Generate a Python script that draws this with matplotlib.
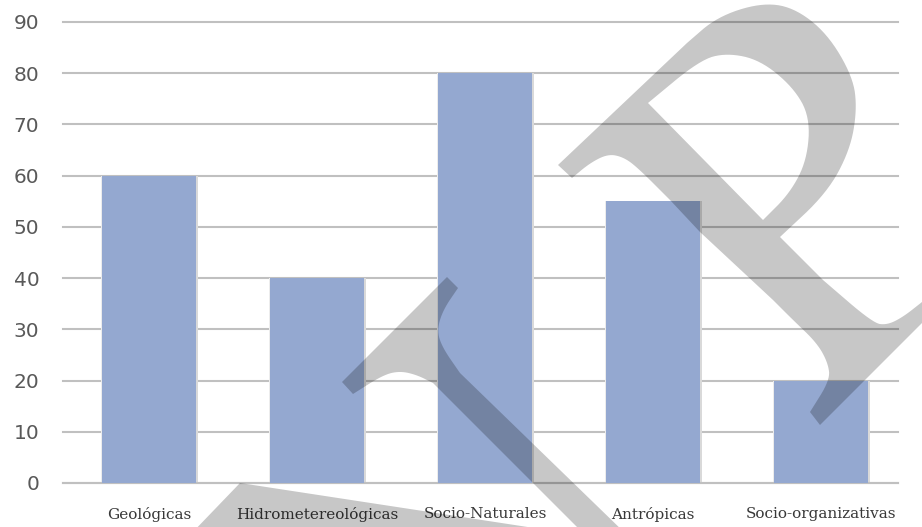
import matplotlib
matplotlib.use("Agg")
import matplotlib.pyplot as plt
import numpy as np
from matplotlib.path import Path
from matplotlib.patches import PathPatch

categories = ["Geológicas", "Hidrometereológicas", "Socio-Naturales",
              "Antrópicas", "Socio-organizativas"]
values = [60, 40, 80, 55, 20]
y_ticks = [0, 10, 20, 30, 40, 50, 60, 70, 80, 90]

BAR_COLOR = "#94a8d0"
GRID_COLOR = "#c0c0c0"

W, H = 922, 527

# watermark outline, in pixels of the original image (y pointing down)
wm_wedge = [(190, 535), (240, 483), (580, 535)]
wm_serif = [(342, 382), (447, 277), (458, 288), (443, 310), (437, 330),
            (442, 347), (460, 373), (627, 535), (585, 535), (433, 383),
            (417, 375), (400, 371), (383, 375), (353, 394)]
wm_bowl = [(558, 165), (687, 43), (717, 17), (760, 3), (793, 7), (827, 33),
           (853, 77), (857, 110), (850, 150), (827, 193), (780, 237),
           (823, 280), (873, 323), (887, 325), (903, 317), (922, 302),
           (940, 288), (940, 305), (820, 425), (810, 412), (830, 380),
           (828, 363), (817, 343), (793, 320), (773, 300), (700, 232),
           (670, 200), (637, 167), (623, 157), (608, 154), (590, 163),
           (572, 178)]
wm_counter = [(648, 103), (700, 60), (727, 53), (760, 60), (793, 87),
              (810, 117), (807, 160), (790, 193), (763, 220)]

# which stretches of each outline are curved (start, end index, inclusive)
curved = {
    "serif": [(2, 6), (9, 13)],
    "bowl": [(1, 10), (11, 15), (19, 24), (26, 31)],
    "counter": [(0, 8)],
}


def chaikin(points, spans, rounds=3):
    pts = [np.array(p, dtype=float) for p in points]
    out = []
    i = 0
    for start, end in sorted(spans):
        out.extend(pts[i:start])
        seg = pts[start:end + 1]
        for _ in range(rounds):
            new = [seg[0]]
            for a, b in zip(seg[:-1], seg[1:]):
                new.append(0.75 * a + 0.25 * b)
                new.append(0.25 * a + 0.75 * b)
            new.append(seg[-1])
            seg = new
        out.extend(seg)
        i = end + 1
    out.extend(pts[i:])
    return out


def to_fig(points, clockwise):
    pts = np.array([(x / W, 1 - y / H) for x, y in points])
    x, y = pts[:, 0], pts[:, 1]
    area = 0.5 * np.sum(x * np.roll(y, -1) - np.roll(x, -1) * y)
    if (area < 0) != clockwise:
        pts = pts[::-1]
    return pts


def watermark_path():
    verts, codes = [], []
    rings = [
        (wm_wedge, False),
        (chaikin(wm_serif, curved["serif"]), False),
        (chaikin(wm_bowl, curved["bowl"]), False),
        (chaikin(wm_counter, curved["counter"]), True),
    ]
    for ring, cw in rings:
        pts = to_fig(ring, cw)
        verts.extend(pts.tolist())
        verts.append(pts[0].tolist())
        codes.extend([Path.MOVETO] + [Path.LINETO] * (len(pts) - 1) + [Path.CLOSEPOLY])
    return Path(verts, codes)


fig = plt.figure(figsize=(W / 100, H / 100), dpi=100)
ax = fig.add_axes([63 / W, 1 - 483 / H, (898 - 63) / W, (483 - 22) / H])

x = np.arange(len(categories))

# soft shadow round each bar
ax.bar(x + 0.012, values, width=0.56, color="#d9d9d9", zorder=2)
ax.bar(x - 0.006, values, width=0.56, color="#ececec", zorder=2)
ax.bar(x, values, width=0.56, color=BAR_COLOR, zorder=3)

ax.set_xlim(-0.512, 4.458)
ax.set_ylim(0, 90)
ax.set_yticks(y_ticks)
ax.set_xticks(x)
ax.set_xticklabels(categories, family="DejaVu Serif", fontsize=11, color="#383838")

ax.yaxis.grid(True, color=GRID_COLOR, linewidth=1.5, zorder=0)
ax.set_axisbelow(True)
for line in ax.get_ygridlines():
    line.set_clip_on(False)
for side in ["top", "right", "left"]:
    ax.spines[side].set_visible(False)
ax.spines["bottom"].set_color(GRID_COLOR)
ax.spines["bottom"].set_linewidth(1.5)

ax.tick_params(axis="y", length=0, pad=17, labelsize=14.5, labelcolor="#595959")
ax.tick_params(axis="x", length=0, pad=17)

fig.add_artist(PathPatch(watermark_path(), transform=fig.transFigure,
                         facecolor="black", edgecolor="none", alpha=0.22,
                         zorder=10))

fig.savefig("out.png", dpi=100)
plt.close(fig)
